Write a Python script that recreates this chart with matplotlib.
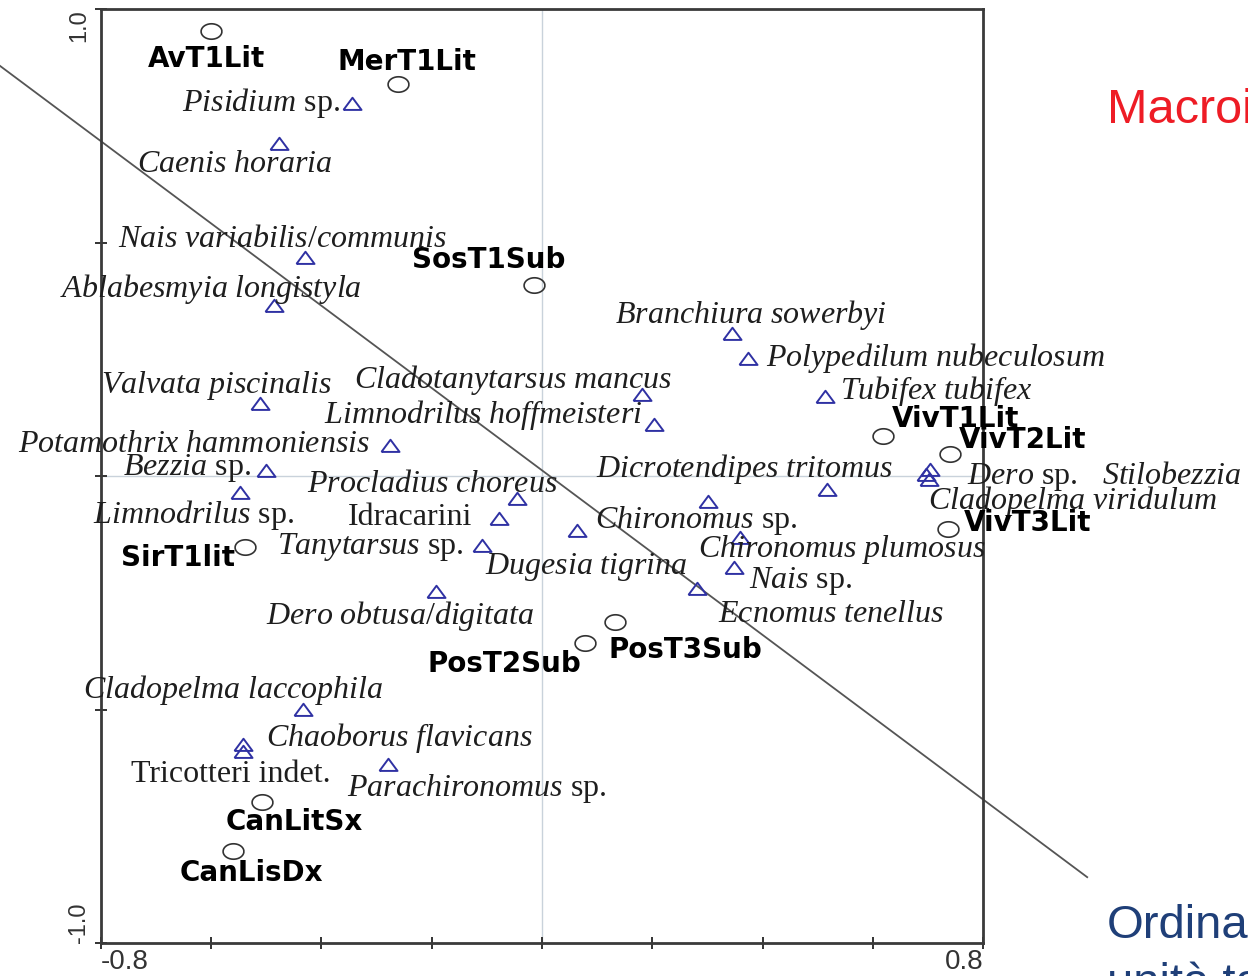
import matplotlib
matplotlib.use('Agg')
import matplotlib.pyplot as plt
import numpy as np

plt.rcParams['mathtext.fontset'] = 'custom'
plt.rcParams['mathtext.rm'] = 'Liberation Serif'
plt.rcParams['mathtext.it'] = 'Liberation Serif:italic'

# site scores (axis 1, axis 2)
site_names = ['AvT1Lit', 'MerT1Lit', 'SosT1Sub', 'VivT1Lit', 'VivT2Lit', 'VivT3Lit',
              'SirT1lit', 'PosT2Sub', 'PosT3Sub', 'CanLitSx', 'CanLisDx']
site_x = [-0.600, -0.261, -0.015, 0.619, 0.740, 0.737, -0.539, 0.078, 0.132, -0.508, -0.561]
site_y = [0.953, 0.839, 0.409, 0.086, 0.047, -0.113, -0.152, -0.358, -0.313, -0.698, -0.803]

# species scores
species_names = ['Pisidium sp.', 'Caenis horaria', 'Nais variabilis/communis',
                 'Ablabesmyia longistyla', 'Valvata piscinalis', 'Potamothrix hammoniensis',
                 'Bezzia sp.', 'Limnodrilus sp.', 'Cladotanytarsus mancus',
                 'Limnodrilus hoffmeisteri', 'Procladius choreus', 'Idracarini',
                 'Tanytarsus sp.', 'Dugesia tigrina', 'Dero obtusa/digitata', 'Chironomus sp.',
                 'Chironomus plumosus', 'Nais sp.', 'Ecnomus tenellus', 'Branchiura sowerbyi',
                 'Polypedilum nubeculosum', 'Tubifex tubifex', 'Dicrotendipes tritomus',
                 'Dero sp.', 'Stilobezzia', 'Cladopelma viridulum', 'Cladopelma laccophila',
                 'Chaoborus flavicans', 'Tricotteri indet.', 'Parachironomus sp.']
species_x = [-0.345, -0.477, -0.430, -0.486, -0.512, -0.276, -0.501, -0.548, 0.181, 0.203,
             -0.045, -0.078, -0.109, 0.063, -0.192, 0.301, 0.359, 0.348, 0.281, 0.345,
             0.374, 0.513, 0.517, 0.704, 0.697, 0.702, -0.434, -0.542, -0.542, -0.279]
species_y = [0.797, 0.711, 0.467, 0.364, 0.154, 0.064, 0.011, -0.036, 0.173, 0.109,
             -0.049, -0.092, -0.150, -0.118, -0.248, -0.056, -0.133, -0.197, -0.242, 0.304,
             0.251, 0.169, -0.030, 0.013, 0.002, -0.009, -0.501, -0.576, -0.591, -0.619]
roman_species = ['Idracarini', 'Tricotteri indet.']

# dividing line drawn across the plot
divider_x = [-0.983, 0.989]
divider_y = [0.878, -0.859]

x_ticks = [-0.8, -0.6, -0.4, -0.2, 0.0, 0.2, 0.4, 0.6, 0.8]
x_ticklabels = ['-0.8', '', '', '', '', '', '', '', '0.8']
y_ticks = [-1.0, -0.5, 0.0, 0.5, 1.0]
y_ticklabels = ['-1.0', '', '', '', '1.0']

# label offsets from the marker, in pixels (right, down)
site_offsets = {
    'AvT1Lit': (-5, 25), 'MerT1Lit': (9, -25), 'SosT1Sub': (-45, -28),
    'VivT1Lit': (72, -20), 'VivT2Lit': (73, -17), 'VivT3Lit': (79, -9),
    'SirT1lit': (-67, 8), 'PosT2Sub': (-81, 18), 'PosT3Sub': (71, 25),
    'CanLitSx': (32, 17), 'CanLisDx': (19, 19),
}
species_offsets = {
    'Pisidium sp.': (-91, -5), 'Caenis horaria': (-44, 17),
    'Nais variabilis/communis': (-22, -22), 'Ablabesmyia longistyla': (-63, -22),
    'Valvata piscinalis': (-43, -23), 'Potamothrix hammoniensis': (-196, -5),
    'Bezzia sp.': (-79, -7), 'Limnodrilus sp.': (-46, 18),
    'Cladotanytarsus mancus': (-129, -20), 'Limnodrilus hoffmeisteri': (-171, -15),
    'Procladius choreus': (-85, -18), 'Idracarini': (-89, -5),
    'Tanytarsus sp.': (-112, -4), 'Dugesia tigrina': (10, 31),
    'Dero obtusa/digitata': (-36, 20), 'Chironomus sp.': (-12, 14),
    'Chironomus plumosus': (102, 7), 'Nais sp.': (67, 9),
    'Ecnomus tenellus': (134, 22), 'Branchiura sowerbyi': (19, -24),
    'Polypedilum nubeculosum': (187, -5), 'Tubifex tubifex': (111, -11),
    'Dicrotendipes tritomus': (-82, -26), 'Dero sp.': (92, 3),
    'Stilobezzia': (246, -2), 'Cladopelma viridulum': (144, 16),
    'Cladopelma laccophila': (-70, -24), 'Chaoborus flavicans': (156, -11),
    'Tricotteri indet.': (-12, 19), 'Parachironomus sp.': (89, 19),
}


def species_label(name):
    if name in roman_species:
        return name
    if name.endswith(' sp.'):
        return r'$\mathit{' + name[:-4] + '}$ sp.'
    return r'$\mathit{' + name.replace(' ', r'\ ') + '}$'


t = np.linspace(0, 2 * np.pi, 40)
ellipse_marker = list(zip(1.35 * np.cos(t), np.sin(t)))
triangle_marker = [(-1, -0.6), (1, -0.6), (0, 0.75), (-1, -0.6)]

fig = plt.figure(figsize=(12.48, 9.76), dpi=100)
ax = fig.add_axes([101 / 1248, 33 / 976, 882 / 1248, 934 / 976])

ax.axhline(0, color='#c9d2db', lw=1.0, zorder=0)
ax.axvline(0, color='#c9d2db', lw=1.0, zorder=0)

ax.plot(divider_x, divider_y, color='#555555', lw=1.3, clip_on=False, zorder=1)

ax.plot(species_x, species_y, ls='none', marker=triangle_marker, ms=13,
        mfc='none', mec='#2f31a3', mew=1.4, zorder=3)
ax.plot(site_x, site_y, ls='none', marker=ellipse_marker, ms=15,
        mfc='none', mec='#333333', mew=1.2, zorder=3)

for name, x, y in zip(species_names, species_x, species_y):
    dx, dy = species_offsets[name]
    ax.annotate(species_label(name), (x, y), xytext=(dx, -dy), textcoords='offset pixels',
                ha='center', va='center_baseline', fontsize=23,
                family='Liberation Serif', color='#1e1e1e', zorder=4,
                annotation_clip=False)

for name, x, y in zip(site_names, site_x, site_y):
    dx, dy = site_offsets[name]
    ax.annotate(name, (x, y), xytext=(dx, -dy), textcoords='offset pixels',
                ha='center', va='center_baseline', fontsize=20, fontweight='bold',
                family='DejaVu Sans', color='black', zorder=5,
                annotation_clip=False)

ax.set_xlim(-0.8, 0.8)
ax.set_ylim(-1.0, 1.0)
ax.set_xticks(x_ticks)
ax.set_xticklabels(x_ticklabels, fontsize=20, family='Liberation Sans', color='#333333')
ax.set_yticks(y_ticks)
ax.set_yticklabels(y_ticklabels, fontsize=17, family='Liberation Sans', color='#333333',
                   rotation=90)
xl = ax.get_xticklabels()
xl[0].set_ha('left')
xl[-1].set_ha('right')
yl = ax.get_yticklabels()
yl[0].set_va('bottom')
yl[-1].set_va('top')
ax.tick_params(axis='both', direction='inout', length=8, width=1.4, color='#333333')
ax.tick_params(axis='x', pad=0)
ax.tick_params(axis='y', pad=4)
for s in ['top', 'bottom', 'left', 'right']:
    ax.spines[s].set_linewidth(2)
    ax.spines[s].set_color('#3a3a3a')

fig.text(1107 / 1248, 1 - 123 / 976, 'Macroinvertebrati', fontsize=35,
         family='Liberation Sans', color='#ee1c25', va='baseline', ha='left')
fig.text(1107 / 1248, 1 - 938 / 976, 'Ordinamento', fontsize=34,
         family='Liberation Sans', color='#1f3f78', va='baseline', ha='left')
fig.text(1107 / 1248, 1 - 996 / 976, 'unità tassonomiche', fontsize=34,
         family='Liberation Sans', color='#1f3f78', va='baseline', ha='left')

fig.savefig('out.png', dpi=100)
